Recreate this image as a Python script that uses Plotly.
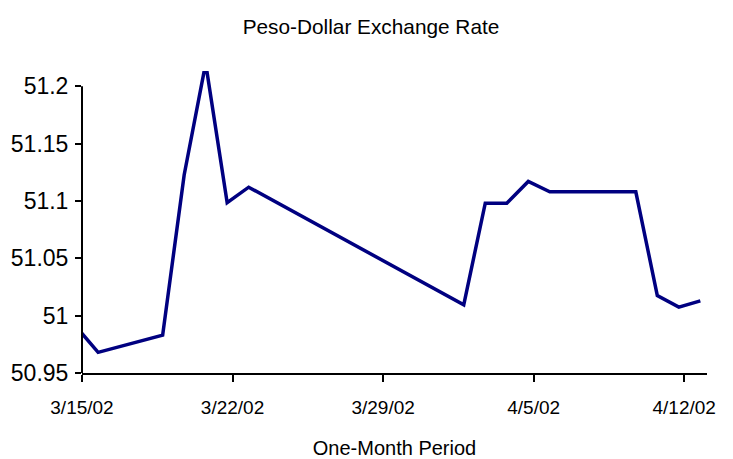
import plotly.graph_objects as go
import pandas as pd

# Data
dates = ["2002-03-14", "2002-03-15", "2002-03-18", "2002-03-19", "2002-03-20",
         "2002-03-21", "2002-03-22", "2002-04-01", "2002-04-02", "2002-04-03",
         "2002-04-04", "2002-04-05", "2002-04-09", "2002-04-10", "2002-04-11",
         "2002-04-12"]
rates = [50.99, 50.968, 50.983, 51.1226, 51.22,
         51.0985, 51.112, 51.0095, 51.098, 51.098,
         51.117, 51.108, 51.108, 51.0175, 51.0074,
         51.0129]

x_tick_labels = ["3/15/02", "3/22/02", "3/29/02", "4/5/02", "4/12/02"]
x_tick_dates = ["2002-03-15", "2002-03-22", "2002-03-29", "2002-04-05", "2002-04-12"]
y_tick_vals = [50.95, 51.0, 51.05, 51.1, 51.15, 51.2]
y_tick_labels = ["50.95", "51", "51.05", "51.1", "51.15", "51.2"]

# axis layout helpers
tick_shift = pd.Timedelta(hours=18)
x_start = pd.Timestamp("2002-03-15") - tick_shift
x_end = x_start + pd.Timedelta(days=29.06)
x_tick_pos = [pd.Timestamp(d) - tick_shift for d in x_tick_dates]

FONT = "Liberation Sans, Arial, sans-serif"
OFF = 8  # page body margin
W, H = 733 - OFF, 459 - OFF

fig = go.Figure()
fig.add_trace(go.Scatter(
    x=pd.to_datetime(dates), y=rates, mode="lines",
    line=dict(color="#000080", width=3.5),
    showlegend=False, hoverinfo="skip",
))

fig.update_layout(
    width=W, height=H,
    paper_bgcolor="white", plot_bgcolor="white",
    margin=dict(l=82 - OFF, r=26, t=71 - OFF, b=86),
    font=dict(family=FONT, color="black", size=20),
    title=dict(text="Peso-Dollar Exchange Rate", x=(371 - OFF) / W, xanchor="center",
               xref="container", y=1 - (27 - OFF) / H, yref="container", yanchor="middle",
               font=dict(family=FONT, size=20.8, color="black")),
    xaxis=dict(
        type="date", range=[x_start, x_end],
        tickmode="array", tickvals=x_tick_pos, ticktext=x_tick_labels,
        ticks="outside", ticklen=7, tickwidth=2, tickcolor="black",
        ticklabelstandoff=9,
        showline=True, linecolor="black", linewidth=2,
        showgrid=False, zeroline=False,
        tickfont=dict(family=FONT, size=19, color="black"),
        title=dict(text="One-Month Period", standoff=28,
                   font=dict(family=FONT, size=20, color="black")),
        automargin=False,
    ),
    yaxis=dict(
        range=[50.95, 51.2133],
        tickmode="array", tickvals=y_tick_vals, ticktext=y_tick_labels,
        ticks="outside", ticklen=6, tickwidth=2, tickcolor="black",
        ticklabelstandoff=2,
        showline=False,
        showgrid=False, zeroline=False,
        tickfont=dict(family=FONT, size=23, color="black"),
        automargin=False,
    ),
    shapes=[dict(type="line", xref="paper", yref="y", x0=0, x1=0,
                 y0=50.95, y1=51.2, line=dict(color="black", width=2))],
)

fig.write_html("out.html")
